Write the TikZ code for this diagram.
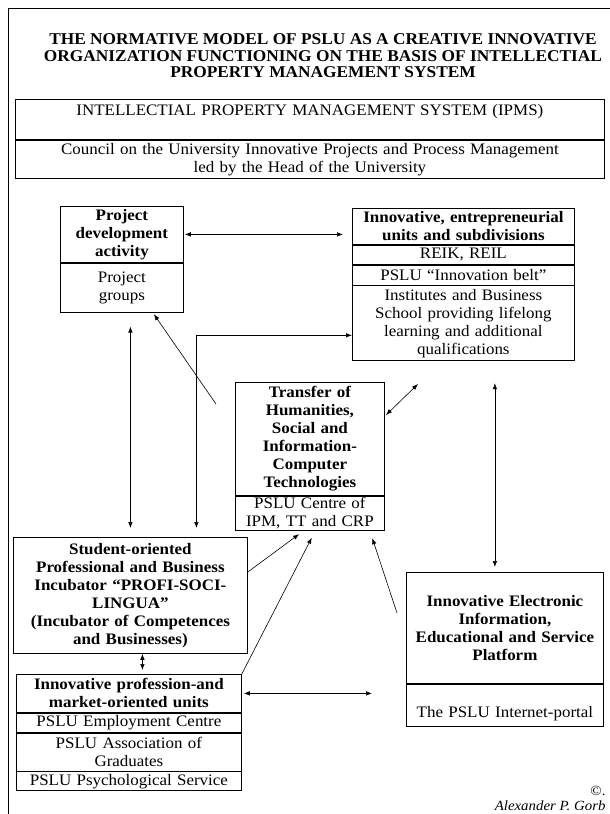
\documentclass[tikz,border=0pt]{standalone}
\usepackage{fontspec}
\setmainfont{Liberation Serif}[FakeStretch=1.06]
\newfontfamily\titlefont{Liberation Serif}[FakeStretch=1.05]
\usetikzlibrary{positioning,arrows.meta}

\tikzset{
  box/.style = {draw, rectangle, line width=0.8pt, inner sep=0pt,
    align=center, font=\fontsize{16}{18}\selectfont},
  headbox/.style = {box, font=\bfseries\fontsize{16}{18}\selectfont},
  link/.style = {line width=0.6pt, -{Latex[length=6pt,width=4.5pt]}},
  dlink/.style = {line width=0.6pt, {Latex[length=6pt,width=4.5pt]}-{Latex[length=6pt,width=4.5pt]}}
}

\begin{document}
\begin{tikzpicture}[x=1pt, y=-1pt]
  \useasboundingbox (0,0) rectangle (610,814);
  % frame
  \draw[line width=0.8pt] (8,814) -- (8,8) -- (610,8);
  \node[align=center, font=\titlefont\bfseries\fontsize{16.5}{16.5}\selectfont] (title) at (323,56)
    {THE NORMATIVE MODEL OF PSLU AS A CREATIVE INNOVATIVE\\
     ORGANIZATION FUNCTIONING ON THE BASIS OF INTELLECTIAL\\
     PROPERTY MANAGEMENT SYSTEM};

  % top system boxes
  \node[box, text width=589pt, minimum height=40pt, anchor=north west] (ipms) at (15,99)
    {INTELLECTIAL PROPERTY MANAGEMENT SYSTEM (IPMS)\\ \mbox{}};
  \node[box, text width=589pt, minimum height=38pt, below=0pt of ipms] (council)
    {Council on the University Innovative Projects and Process Management\\
     led by the Head of the University};

  % project development
  \node[headbox, text width=123pt, minimum height=56pt, anchor=north west] (pdhead) at (60,206)
    {Project\\development\\activity};
  \node[box, text width=123pt, minimum height=49pt, below=0pt of pdhead] (pdbody)
    {Project\\groups};

  % innovative entrepreneurial units
  \node[headbox, text width=222pt, minimum height=36pt, anchor=north west] (euhead) at (352,208)
    {Innovative, entrepreneurial\\units and subdivisions};
  \node[box, text width=222pt, minimum height=19pt, below=0pt of euhead] (eureik) {REIK, REIL};
  \node[box, text width=222pt, minimum height=20pt, below=0pt of eureik] (eubelt)
    {PSLU ``Innovation belt''};
  \node[box, text width=222pt, minimum height=75pt, below=0pt of eubelt] (euinst)
    {Institutes and Business\\School providing lifelong\\learning and additional\\qualifications};

  % transfer of technologies
  \node[headbox, text width=149pt, minimum height=113pt, anchor=north west] (trhead) at (235,382)
    {Transfer of\\Humanities,\\Social and\\Information-\\Computer\\Technologies};
  \node[box, text width=149pt, minimum height=34pt, below=0pt of trhead] (trbody)
    {PSLU Centre of\\IPM, TT and CRP};

  % incubator
  \node[headbox, text width=234pt, minimum height=116pt, anchor=north west] (st) at (13,537)
    {Student-oriented\\Professional and Business\\Incubator ``PROFI-SOCI-\\LINGUA''\\
     (Incubator of Competences\\and Businesses)};

  % profession- and market-oriented units
  \node[headbox, text width=225pt, minimum height=38pt, anchor=north west] (pmhead) at (16,674)
    {Innovative profession-and\\market-oriented units};
  \node[box, text width=225pt, minimum height=19pt, below=0pt of pmhead] (pmemp)
    {PSLU Employment Centre};
  \node[box, text width=225pt, minimum height=38pt, below=0pt of pmemp] (pmgrad)
    {PSLU Association of\\Graduates};
  \node[box, text width=225pt, minimum height=19pt, below=0pt of pmgrad] (pmpsy)
    {PSLU Psychological Service};

  % electronic platform
  \node[headbox, text width=197pt, minimum height=111pt, anchor=north west] (ephead) at (406,572)
    {Innovative Electronic\\Information,\\Educational and Service\\Platform};
  \node[box, text width=197pt, minimum height=42pt, below=0pt of ephead] (epbody)
    {\rule{0pt}{28pt}The PSLU Internet-portal};

  % copyright
  \node[anchor=base east, font=\fontsize{14}{16}\selectfont] (copy) at (609,795) {\textcopyright.};
  \node[anchor=base east, font=\itshape\fontsize{14}{16}\selectfont] (author) at (609,810)
    {Alexander P. Gorb};

  % connectors
  \coordinate (pdfree) at (216,404);
  \coordinate (trne) at (386,415);
  \coordinate (eusw) at (418,384);
  \coordinate (epfree) at (397,613);

  \draw[dlink, shorten <=1pt, shorten >=9pt] (pdhead.east) -- (pdhead.east -| euhead.west);
  \draw[dlink, shorten <=14pt, shorten >=9pt] (st.north |- pdbody.south) -- (st.north);
  \draw[dlink, shorten <=9pt] ([xshift=66pt]st.north) |- ([yshift=-12pt]euinst.west);
  \draw[link, shorten >=2pt] (pdfree) -- ([xshift=-31pt]pdbody.south east);
  \draw[dlink] (trne) -- (eusw);
  \draw[dlink, shorten <=22pt, shorten >=5pt] ([xshift=-10pt]ephead.north |- euinst.south)
    -- ([xshift=-10pt]ephead.north);
  \draw[link, shorten >=6pt] ([yshift=-35pt]st.north east) -- ([xshift=-6pt]trbody.south);
  \draw[link, shorten >=8pt] (pmhead.north east) -- ([xshift=5.5pt]trbody.south);
  \draw[link, shorten >=8pt] (epfree) -- ([xshift=-15pt]trbody.south east);
  \draw[dlink, shorten <=2pt, shorten >=34pt] (pmhead.east) -- (pmhead.east -| epbody.west);
  \draw[dlink, shorten >=4pt] ([xshift=12pt]st.south) -- ([xshift=12pt]st.south |- pmhead.north);
\end{tikzpicture}
\end{document}
